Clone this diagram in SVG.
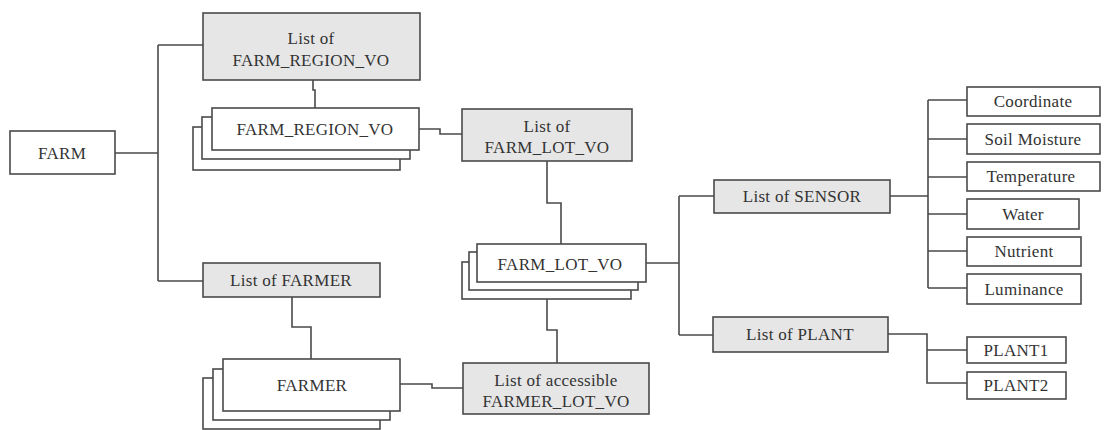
<svg xmlns="http://www.w3.org/2000/svg" width="1107" height="430" viewBox="0 0 1107 430">
<style>
rect{stroke:#4a4a4a;stroke-width:1.6}
.w{fill:#fff}
.g{fill:#e6e6e6}
text{font-family:"Liberation Serif","DejaVu Serif",serif;font-size:17px;letter-spacing:0.3px;fill:#333;text-anchor:middle}
.c path{fill:none;stroke:#4a4a4a;stroke-width:1.6}
</style>
<rect width="1107" height="430" fill="#fff" style="stroke:none"/>
<g class="c" id="connectors">
<path d="M115,153 H158 M158,45 V281 M158,45 H203 M158,281 H203"/>
<path d="M313,80 V90 H315 V108"/>
<path d="M419,129 H440 V134 H462"/>
<path d="M547,161 V203 H561 V244"/>
<path d="M547,299 V330 H557 V363"/>
<path d="M292,297 V327 H311 V359"/>
<path d="M400,384 H432 V388 H463"/>
<path d="M646,263 H679 M679,196 V335 M679,196 H714 M679,335 H713"/>
<path d="M890,196 H928 M928,100 V288 M928,100 H967 M928,139 H967 M928,177 H967 M928,214 H967 M928,251 H967 M928,288 H967"/>
<path d="M888,334 H927 V383 H967 M927,350 H967"/>
</g>
<g id="farm"><rect class="w" x="10" y="131" width="105" height="43"/><text x="62" y="159">FARM</text></g>
<g id="list-farm-region"><rect class="g" x="203" y="13" width="217" height="67"/><text x="311" y="44">List of</text><text x="311" y="66">FARM_REGION_VO</text></g>
<g id="farm-region-vo">
<rect class="w" x="193" y="127" width="207" height="43"/>
<rect class="w" x="202" y="117" width="208" height="42"/>
<rect class="w" x="212" y="108" width="207" height="42"/>
<text x="315" y="135">FARM_REGION_VO</text></g>
<g id="list-farm-lot"><rect class="g" x="462" y="109" width="170" height="52"/><text x="547" y="132">List of</text><text x="547" y="153">FARM_LOT_VO</text></g>
<g id="farm-lot-vo">
<rect class="w" x="462" y="262" width="169" height="37"/>
<rect class="w" x="469" y="252" width="169" height="38"/>
<rect class="w" x="477" y="244" width="169" height="38"/>
<text x="560" y="270">FARM_LOT_VO</text></g>
<g id="list-farmer"><rect class="g" x="203" y="263" width="177" height="34"/><text x="291" y="286">List of FARMER</text></g>
<g id="farmer">
<rect class="w" x="203" y="378" width="177" height="51"/>
<rect class="w" x="213" y="369" width="177" height="51"/>
<rect class="w" x="223" y="359" width="177" height="52"/>
<text x="312" y="391">FARMER</text></g>
<g id="list-accessible"><rect class="g" x="463" y="363" width="186" height="51"/><text x="556" y="386">List of accessible</text><text x="556" y="407">FARMER_LOT_VO</text></g>
<g id="list-sensor"><rect class="g" x="714" y="180" width="176" height="33"/><text x="802" y="202">List of SENSOR</text></g>
<g id="list-plant"><rect class="g" x="713" y="317" width="175" height="35"/><text x="800" y="340">List of PLANT</text></g>
<g id="coordinate"><rect class="w" x="967" y="87" width="133" height="29"/><text x="1033" y="107">Coordinate</text></g>
<g id="soil"><rect class="w" x="967" y="124" width="133" height="30"/><text x="1033" y="145">Soil Moisture</text></g>
<g id="temperature"><rect class="w" x="967" y="162" width="133" height="29"/><text x="1031" y="182">Temperature</text></g>
<g id="water"><rect class="w" x="967" y="199" width="112" height="30"/><text x="1023" y="220">Water</text></g>
<g id="nutrient"><rect class="w" x="967" y="237" width="114" height="29"/><text x="1024" y="257">Nutrient</text></g>
<g id="luminance"><rect class="w" x="967" y="274" width="114" height="30"/><text x="1024" y="295">Luminance</text></g>
<g id="plant1"><rect class="w" x="967" y="337" width="99" height="26"/><text x="1016" y="356">PLANT1</text></g>
<g id="plant2"><rect class="w" x="967" y="372" width="99" height="27"/><text x="1016" y="391">PLANT2</text></g>
</svg>
